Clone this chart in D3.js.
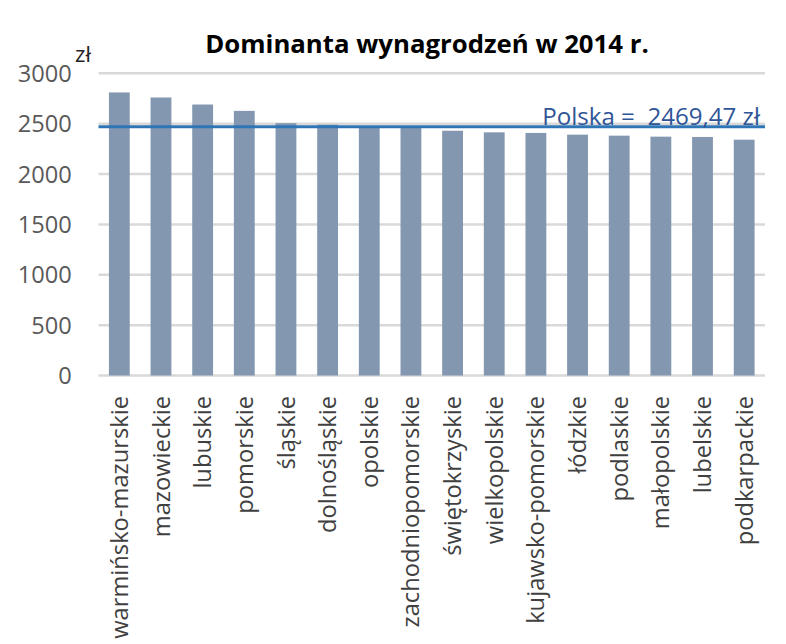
<!DOCTYPE html>
<html>
<head>
<meta charset="utf-8">
<script src="https://cdn.jsdelivr.net/npm/d3@7"></script>
<style>
  html, body { margin: 0; padding: 0; background: #fff; }
  svg { display: block; }
  text { font-family: "Open Sans", "Noto Sans", sans-serif; }
</style>
</head>
<body>
<svg id="chart" width="786" height="644"></svg>
<script>
const categories = ["warmińsko-mazurskie","mazowieckie","lubuskie","pomorskie","śląskie","dolnośląskie","opolskie","zachodniopomorskie","świętokrzyskie","wielkopolskie","kujawsko-pomorskie","łódzkie","podlaskie","małopolskie","lubelskie","podkarpackie"];
const values = [2810, 2760, 2690, 2627, 2505, 2490, 2468, 2464, 2430, 2414, 2408, 2391, 2381, 2371, 2368, 2341];
const yTicks = [0, 500, 1000, 1500, 2000, 2500, 3000];
const polskaValue = 2469.47;
const polskaLabel = "Polska =  2469,47 zł";
const titleText = "Dominanta wynagrodzeń w 2014 r.";
const unitText = "zł";

(function () {
const svg = d3.select("#chart");
const pLeft = 98.5, pRight = 765, pTop = 73.3, pBottom = 375.5;

const x = d3.scaleBand().domain(categories).range([pLeft, pRight]).paddingInner(0.5).paddingOuter(0.25);
const y = d3.scaleLinear().domain([0, 3000]).range([pBottom, pTop]);

function fit(sel, target) {
  const w = sel.node().getComputedTextLength();
  const fs = parseFloat(sel.attr("font-size"));
  sel.attr("font-size", fs * target / w);
}

// gridlines
svg.append("g").selectAll("line").data(yTicks).join("line")
  .attr("x1", pLeft).attr("x2", pRight)
  .attr("y1", d => y(d)).attr("y2", d => y(d))
  .attr("stroke", "#D9D9D9").attr("stroke-width", 2.5);

// y tick labels
const yl = svg.append("g").selectAll("text").data(yTicks).join("text")
  .attr("x", 71.7).attr("y", d => y(d)).attr("dy", "0.36em")
  .attr("text-anchor", "end").attr("fill", "#595959").attr("font-size", 22)
  .text(d => d);
{
  const n = yl.filter(d => d === 3000);
  const w = n.node().getComputedTextLength();
  yl.attr("font-size", 22 * 54 / w);
}

// unit
const u = svg.append("text").attr("x", 75).attr("y", 61.5).attr("fill", "#222")
  .attr("font-size", 18).text(unitText);
fit(u, 16);

// bars
svg.append("g").selectAll("rect").data(values).join("rect")
  .attr("x", (d, i) => x(categories[i]))
  .attr("width", x.bandwidth())
  .attr("y", d => y(d))
  .attr("height", d => y(0) - y(d))
  .attr("fill", "#8497B0");

// x labels
const xl = svg.append("g").selectAll("text").data(categories).join("text")
  .attr("transform", d => `translate(${x(d) + x.bandwidth() / 2},396) rotate(-90)`)
  .attr("dy", "0.36em")
  .attr("text-anchor", "end").attr("fill", "#404040").attr("font-size", 20)
  .text(d => d);
{
  const n = xl.filter(d => d === "kujawsko-pomorskie");
  const w = n.node().getComputedTextLength();
  xl.attr("font-size", 20 * 228 / w);
}

// Polska line
svg.append("line")
  .attr("x1", pLeft).attr("x2", pRight)
  .attr("y1", y(polskaValue)).attr("y2", y(polskaValue))
  .attr("stroke", "#2E75B6").attr("stroke-width", 3);

const pl = svg.append("text").attr("x", 760).attr("y", 124.5)
  .attr("text-anchor", "end").attr("fill", "#2F5597").attr("font-size", 22)
  .style("white-space", "pre").text(polskaLabel);
fit(pl, 218);

// title
const t = svg.append("text").attr("x", 427).attr("y", 53.3)
  .attr("text-anchor", "middle").attr("font-weight", "bold").attr("fill", "#000")
  .attr("font-size", 22).text(titleText);
fit(t, 444);
})();
</script>
</body>
</html>
